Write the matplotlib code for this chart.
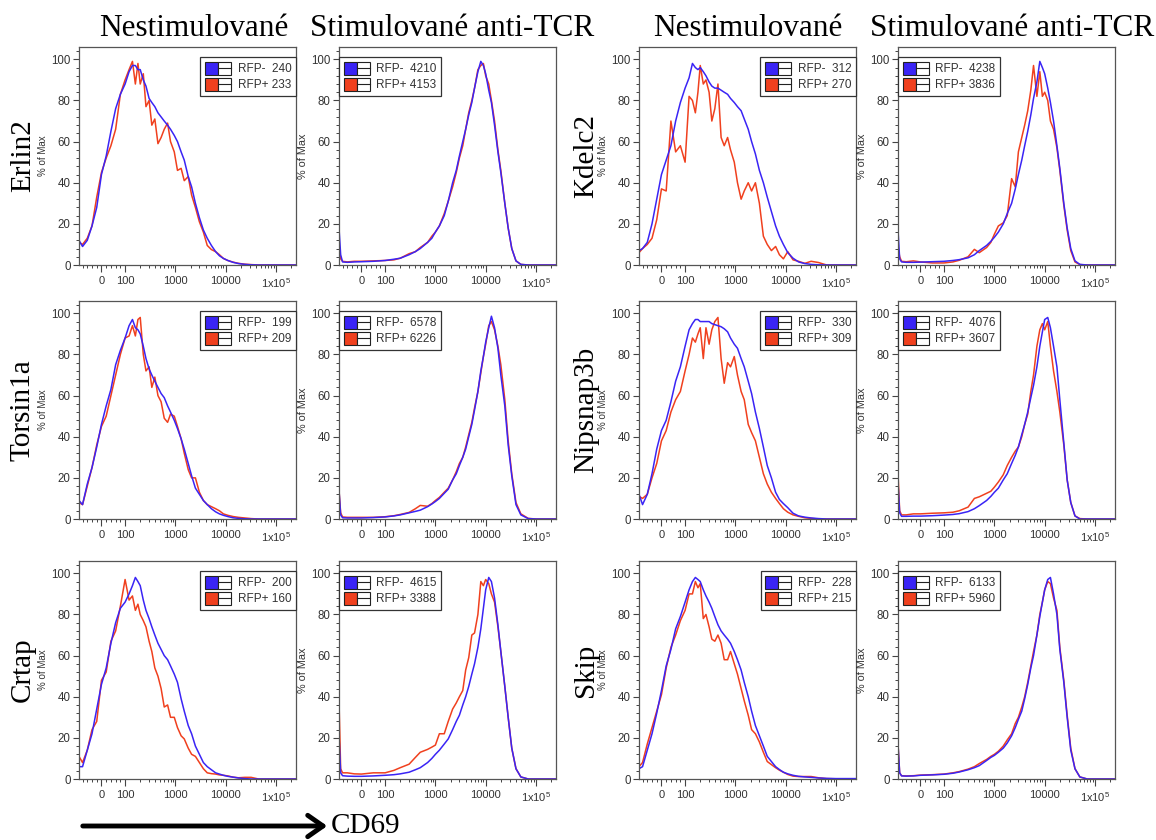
import matplotlib
matplotlib.use("Agg")
import matplotlib.pyplot as plt
from matplotlib.patches import Rectangle, FancyArrowPatch
from matplotlib.lines import Line2D
from matplotlib.legend_handler import HandlerBase
from matplotlib.ticker import FixedLocator, FixedFormatter, MultipleLocator

plt.rcParams["font.family"] = "Liberation Sans"
plt.rcParams["mathtext.default"] = "regular"

# ---------------- data (CD69 intensity, % of max) ----------------
X_UNSTIM = [-95, -80, -60, -40, -20, 0, 20, 40, 60, 80,
            100, 120, 140, 160, 180, 200, 230, 260, 300, 340,
            390, 450, 520, 600, 700, 800, 950, 1100, 1300, 1500,
            1800, 2100, 2500, 3000, 3600, 4300, 5200, 6300, 7500, 9000,
            11000, 14000, 18000, 24000, 32000, 45000, 65000, 100000, 250000]

X_STIM = [-95, -88, -80, -60, -30, 0, 50, 100, 150, 200,
          300, 400, 500, 700, 850, 1000, 1200, 1500, 1800, 2200,
          2600, 3000, 3500, 4000, 4600, 5300, 6000, 7000, 8000, 9000,
          10000, 11500, 13000, 15000, 17500, 20000, 24000, 28000, 33000, 40000,
          50000, 70000, 100000, 250000]

# unstimulated
erlin2_neg = [12, 9, 12, 19, 28, 44, 53, 65, 76, 83,
              88, 94, 97, 97, 95, 95, 90, 87, 81, 79,
              77, 74, 72, 70, 68, 66, 63, 60, 55, 51,
              43, 38, 30, 23, 17, 13, 9.5, 6.5, 4.5, 3.2,
              2.2, 1.3, 0.7, 0.3, 0.1, 0, 0, 0, 0]
erlin2_pos = [11, 10, 13, 19, 33, 45, 52, 58, 66, 83,
              90, 95, 99, 88, 98, 88, 93, 77, 80, 68,
              71, 59, 62, 66, 69, 60, 55, 46, 47, 41,
              43, 34, 28, 21, 16, 9.5, 7.5, 6.5, 5, 3.2,
              2.2, 1.4, 0.8, 0.4, 0.2, 0, 0, 0, 0]
kdelc2_neg = [7, 8, 11, 20, 32, 44, 51, 58, 70, 79,
              86, 91, 98, 96, 95, 96, 94, 92, 89, 87,
              86, 86, 85, 84, 83, 81, 79, 77, 75, 71,
              66, 60, 54, 46, 40, 33, 26, 19, 14, 10,
              6, 3.3, 1.5, 0.7, 0.3, 0.1, 0, 0, 0]
kdelc2_pos = [6, 8, 10, 13, 22, 37, 36, 70, 55, 58,
              50, 82, 80, 74, 84, 97, 88, 90, 84, 70,
              76, 88, 62, 58, 62, 56, 50, 40, 32, 36,
              40, 36, 40, 30, 14, 10, 7, 9, 5, 3,
              6.5, 2.5, 1.8, 0.8, 1.8, 1.2, 0, 0, 0]
torsin1a_neg = [9, 7, 17, 25, 35, 46, 55, 63, 75, 82,
                88, 94, 97, 93, 92, 90, 84, 78, 73, 70,
                67, 64, 61, 59, 55, 52, 48, 44, 39, 34,
                27, 21, 15, 12, 9, 7, 5, 3.5, 2.5, 1.8,
                1.2, 0.6, 0.3, 0.1, 0, 0, 0, 0, 0]
torsin1a_pos = [8, 7, 16, 25, 36, 45, 50, 60, 70, 80,
                88, 89, 94, 89, 97, 98, 80, 72, 74, 64,
                69, 60, 57, 49, 47, 51, 50, 45, 39, 32,
                24, 20, 20, 13, 9, 7, 6, 5, 4, 2.5,
                1.8, 1.2, 0.8, 0.5, 0.2, 0, 0, 0, 0]
nipsnap3b_neg = [12, 7, 12, 22, 34, 43, 48, 57, 67, 74,
                 84, 92, 95, 97, 97, 96, 96, 96, 96, 95,
                 94.5, 94, 93.5, 92.5, 91, 88, 85, 83, 78, 74,
                 67, 61, 52, 44, 35, 26, 20, 13, 9.5, 7.5,
                 5.5, 2.8, 1.5, 0.9, 0.5, 0.2, 0, 0, 0]
nipsnap3b_pos = [11, 10, 12, 20, 27, 38, 43, 52, 58, 62,
                 72, 80, 88, 86, 90, 93, 78, 93, 85, 92,
                 96, 98, 78, 66, 76, 74, 79, 70, 62, 58,
                 46, 42, 38, 30, 22, 17, 13, 10, 7.5, 5,
                 3.3, 2, 1.3, 0.6, 0.3, 0, 0, 0, 0]
crtap_neg = [6, 6, 14, 22, 34, 46, 54, 66, 76, 83,
             86, 90, 94, 98, 96, 94, 87, 82, 78, 74,
             70, 66, 63, 60, 58, 55, 51, 47, 39, 33,
             26, 22, 16, 12, 8, 6, 4.5, 3, 2.4, 1.8,
             1.3, 0.9, 0.5, 0.2, 0, 0, 0, 0, 0]
crtap_pos = [11, 8, 14, 24, 28, 48, 52, 67, 72, 84,
             97, 87, 89, 82, 85, 80, 77, 74, 67, 62,
             54, 50, 44, 35, 36, 30, 30, 25, 21, 19.5,
             15, 12, 11, 8, 5, 3, 2.6, 2.4, 2, 1.8,
             1.5, 0.9, 0.6, 0.8, 0.8, 0, 0, 0, 0]
skip_neg = [5, 6, 14, 22, 32, 43, 55, 63, 73, 79,
            86, 92, 96, 98, 97, 96, 92, 89, 86, 83,
            79, 75, 72, 70, 68, 66, 62, 58, 53, 47,
            40, 33, 26, 21, 16, 11, 8.5, 6, 4.6, 3.3,
            2.5, 1.8, 1.3, 1, 0.8, 0.5, 0.3, 0.2, 0.2]
skip_pos = [6, 8, 17, 25, 33, 41, 54, 64, 70, 77,
            82, 90, 90, 96, 93, 95, 78, 80, 74, 68,
            67, 70, 66, 58, 58, 62, 56, 51, 44, 38,
            31, 24, 22, 18, 13, 8.5, 7, 5.5, 4.3, 3.3,
            2.2, 1.4, 1.2, 1.2, 1.2, 0.6, 0.2, 0.1, 0]

# stimulated anti-TCR
erlin2_stim_neg = [18, 5, 1.5, 1.3, 1.5, 1.6, 1.8, 2.2, 2.8, 3.3,
                   5, 6.5, 8, 11, 13, 16, 19, 24, 31, 40,
                   46, 53, 60, 66, 73, 79, 86, 94, 99, 97,
                   93, 85, 79, 68, 55, 45, 30, 18, 8, 2,
                   0.3, 0, 0, 0]
erlin2_stim_pos = [8, 3, 1.8, 1.5, 1.8, 1.8, 2, 2.2, 2.5, 3.3,
                   5.5, 6.5, 8.5, 11, 14, 16, 19, 25, 31, 38,
                   45, 52, 58, 66, 74, 80, 86, 95, 97, 98,
                   92, 88, 80, 70, 56, 46, 30, 18, 8, 2,
                   0.3, 0, 0, 0]
kdelc2_stim_neg = [17, 3, 1.5, 1.3, 1.3, 1.4, 1.6, 1.8, 2.2, 2.6,
                   3.5, 5, 7, 9.5, 11.5, 13.5, 16, 20, 25, 30,
                   37, 44, 51, 58, 65, 73, 81, 89, 99, 96,
                   93, 86, 79, 70, 58, 47, 30, 18, 8, 2,
                   0.3, 0, 0, 0]
kdelc2_stim_pos = [9, 4, 1.8, 1.6, 2, 1.5, 1, 1, 1.5, 2.3,
                   4, 7.6, 6, 8.5, 11, 15, 19, 20.5, 24, 42,
                   38, 55, 62, 68, 75, 85, 97, 82, 94, 82,
                   84, 80, 70, 66, 57, 46, 29, 17, 7, 1.5,
                   0.2, 0, 0, 0]
torsin1a_stim_neg = [14, 2, 0.6, 0.5, 0.5, 0.5, 0.7, 1, 1.5, 2,
                     3, 3.7, 4.3, 6, 7.3, 8.5, 10, 12.5, 14.5, 19,
                     22, 26, 30, 34, 40, 46, 53, 62, 72, 79,
                     86, 93, 98.6, 93, 83, 70, 55, 36, 21, 7,
                     2, 0.2, 0, 0]
torsin1a_stim_pos = [14, 3, 1, 0.8, 0.8, 0.8, 0.8, 1.1, 1.6, 2.2,
                     3.2, 5, 6.6, 6.2, 7.5, 9, 10.5, 13, 15, 19,
                     23, 27, 30, 35, 41, 47, 54, 62, 71, 79,
                     85, 94, 96, 92, 84, 75, 58, 38, 22, 8,
                     2.5, 0.3, 0, 0]
nipsnap3b_stim_neg = [18, 3, 1.3, 1.3, 1.4, 1.4, 1.6, 1.9, 2.2, 2.6,
                      3.6, 5, 6.5, 9, 11, 13, 15, 19, 22, 27,
                      31, 35, 41, 46, 52, 59, 65, 74, 84, 91,
                      97, 98, 93, 84, 74, 58, 37, 19, 8, 1.5,
                      0, 0, 0, 0]
nipsnap3b_stim_pos = [22, 4, 2, 2, 2.5, 2.5, 2.8, 3, 3.3, 4,
                      5.8, 10, 10.8, 12.5, 13.5, 15.5, 18, 21.5, 26, 30,
                      33, 35, 40, 46, 51, 62, 70, 84, 92, 95,
                      92, 96, 84, 72, 62, 52, 36, 19, 8, 1.5,
                      0.2, 0, 0, 0]
crtap_stim_neg = [21, 3, 1.6, 1.4, 1.3, 1.3, 1.5, 1.8, 2.1, 2.5,
                  3.3, 4.5, 5.5, 8, 10, 12, 14, 17, 19.5, 24,
                  28, 31, 36, 40, 45, 51, 56, 64, 73, 83,
                  92, 98, 96, 88, 75, 62, 45, 30, 15, 5,
                  1, 0, 0, 0]
crtap_stim_pos = [38, 5, 3, 3, 2.5, 2.4, 3, 3, 4.2, 5.5,
                  7.2, 10.5, 13, 14.4, 15.5, 16.5, 22, 22, 28, 34,
                  37, 40, 43, 53, 59, 70, 71, 80, 96, 94,
                  97, 95, 90, 86, 74, 62, 45, 30, 15, 5,
                  1, 0, 0, 0]
skip_stim_neg = [17, 3, 1.5, 1.4, 1.5, 1.8, 2, 2.3, 2.8, 3.4,
                 4.5, 5.5, 6.5, 9, 10.5, 11.5, 13, 15, 17.5, 21,
                 25, 29, 33, 39, 46, 54, 60, 70, 79, 86,
                 92, 97, 98, 90, 80, 63, 47, 30, 14, 5,
                 1, 0, 0, 0]
skip_stim_pos = [17, 3, 1.6, 1.5, 1.6, 1.9, 2.1, 2.4, 3, 3.6,
                 4.8, 6, 7.5, 9.5, 11, 12, 13.5, 16, 19, 22,
                 27, 30, 35, 40, 47, 55, 62, 70, 80, 86,
                 92, 96, 95, 88, 82, 64, 48, 31, 15, 5,
                 1, 0, 0, 0]

# event counts shown in the legends (RFP-, RFP+)
counts = {
    "erlin2": (240, 233), "erlin2_stim": (4210, 4153),
    "kdelc2": (312, 270), "kdelc2_stim": (4238, 3836),
    "torsin1a": (199, 209), "torsin1a_stim": (6578, 6226),
    "nipsnap3b": (330, 309), "nipsnap3b_stim": (4076, 3607),
    "crtap": (200, 160), "crtap_stim": (4615, 3388),
    "skip": (228, 215), "skip_stim": (6133, 5960),
}

genes = [["Erlin2", "Kdelc2"], ["Torsin1a", "Nipsnap3b"], ["Crtap", "Skip"]]
col_titles = ["Nestimulované", "Stimulované anti-TCR", "Nestimulované", "Stimulované anti-TCR"]

XTICKS = [0, 100, 1000, 10000, 100000]
XTICK_LABELS = ["0", "100", "1000", "10000", "1x10$^5$"]

BLUE = "#3a24f5"
RED = "#f0401e"

# ---------------- layout (pixels) ----------------
W, H = 1156, 840
COL_LEFT = [79, 339, 639, 898]
ROW_TOP = [47, 301, 561]
AX_W, AX_H = 217, 218
TITLE_X = [194, 452, 748, 1012]
GENE_X = [23, 586]
YLAB_X = [43, 303, 603, 862]

fig = plt.figure(figsize=(W / 100, H / 100), dpi=100)


def fx(px):
    return px / W


def fy(py):
    return 1 - py / H


class Gate:
    def __init__(self, color):
        self.color = color


class GateHandler(HandlerBase):
    def create_artists(self, legend, orig_handle, xdescent, ydescent,
                       width, height, fontsize, trans):
        s = height
        x0, y0 = -xdescent, -ydescent
        r1 = Rectangle((x0, y0), s, s, fc=orig_handle.color, ec="#222222",
                       lw=0.8, transform=trans)
        r2 = Rectangle((x0 + s, y0), s, s, fc="white", ec="#222222",
                       lw=0.8, transform=trans)
        ln = Line2D([x0 + s, x0 + 2 * s], [y0 + s / 2, y0 + s / 2],
                    color="#222222", lw=0.8, transform=trans)
        return [r1, r2, ln]


minor_x = [v for v in (-80, -60, -40, -20, 20, 40, 60, 80)]
for dec in (100, 1000, 10000):
    minor_x += [k * dec for k in range(2, 10)]
minor_x += [200000]


def draw_panel(ax, x, neg, pos, n, stim):
    ax.plot(x, pos, color=RED, lw=1.1)
    ax.plot(x, neg, color=BLUE, lw=1.1)
    ax.set_xscale("symlog", linthresh=100, linscale=0.423)
    ax.set_xlim(-95, 250000)
    ax.set_ylim(0, 106)
    ax.xaxis.set_major_locator(FixedLocator(XTICKS))
    ax.xaxis.set_major_formatter(FixedFormatter(XTICK_LABELS))
    ax.xaxis.set_minor_locator(FixedLocator(minor_x))
    ax.yaxis.set_major_locator(MultipleLocator(20))
    ax.yaxis.set_minor_locator(MultipleLocator(4))
    ax.tick_params(which="major", direction="out", length=4, width=0.8,
                   color="#444444", labelcolor="#333333", labelsize=8.3, pad=2)
    ax.tick_params(which="minor", direction="out", length=2.5, width=0.7,
                   color="#444444")
    ax.tick_params(axis="x", which="major", length=5, labelsize=8, pad=3)
    for sp in ax.spines.values():
        sp.set_color("#555555")
        sp.set_linewidth(0.9)
    labels = [f"RFP-  {n[0]}", f"RFP+ {n[1]}"]
    if stim:
        loc, anchor = "upper left", (0.0, 0.954)
    else:
        loc, anchor = "upper right", (1.0, 0.954)
    leg = ax.legend([Gate(BLUE), Gate(RED)], labels,
                    handler_map={Gate: GateHandler()},
                    loc=loc, bbox_to_anchor=anchor, borderaxespad=0,
                    fontsize=8.5, handlelength=2.25, handleheight=1.32,
                    handletextpad=0.5, labelspacing=0.2, borderpad=0.4,
                    fancybox=False, framealpha=1, edgecolor="#333333")
    leg.get_frame().set_linewidth(0.9)
    for t in leg.get_texts():
        t.set_color("#333333")


for r in range(3):
    for half in range(2):
        gene = genes[r][half]
        key = gene.lower()
        data = globals()
        for k in range(2):
            c = half * 2 + k
            ax = fig.add_axes([fx(COL_LEFT[c]), fy(ROW_TOP[r] + AX_H),
                               fx(AX_W), AX_H / H])
            if k == 0:
                draw_panel(ax, X_UNSTIM, data[key + "_neg"], data[key + "_pos"],
                           counts[key], False)
            else:
                draw_panel(ax, X_STIM, data[key + "_stim_neg"], data[key + "_stim_pos"],
                           counts[key + "_stim"], True)
            fig.text(fx(YLAB_X[c]), fy(ROW_TOP[r] + AX_H / 2), "% of Max",
                     rotation=90, ha="center", va="center",
                     fontsize=7 if k == 0 else 7.8, color="#333333")
        fig.text(fx(GENE_X[half]), fy(ROW_TOP[r] + AX_H / 2), gene,
                 rotation=90, ha="center", va="center", fontsize=21,
                 family="Liberation Serif")

for c, title in enumerate(col_titles):
    fig.text(fx(TITLE_X[c]), fy(28), title, ha="center", va="center",
             fontsize=22.5, family="Liberation Serif")

fig.add_artist(FancyArrowPatch((fx(80), fy(826)), (fx(330), fy(826)),
                               transform=fig.transFigure,
                               arrowstyle="->,head_length=0.5,head_width=0.35",
                               mutation_scale=22, lw=3.5, color="black"))
fig.text(fx(331), fy(826), "CD69", ha="left", va="center", fontsize=21,
         family="Liberation Serif")

fig.savefig("out.png", dpi=100)
